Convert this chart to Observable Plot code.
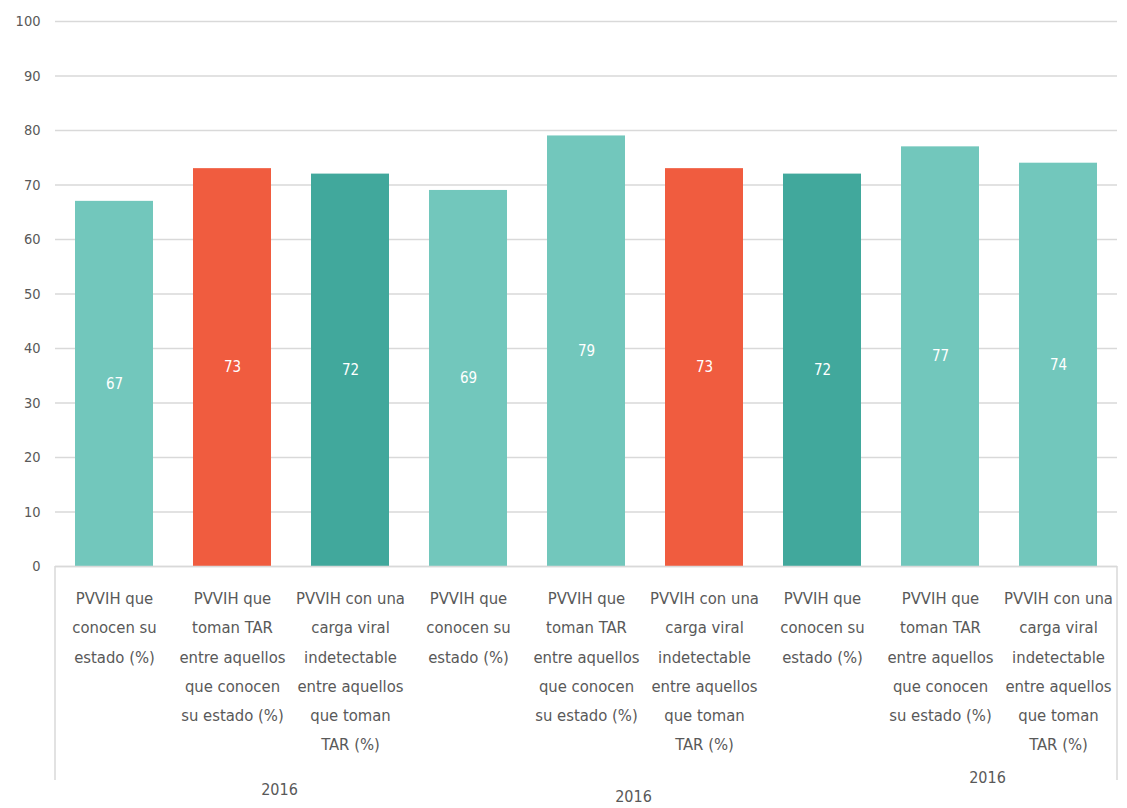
<!DOCTYPE html>
<html>
<head>
<meta charset="utf-8">
<script src="https://cdn.jsdelivr.net/npm/d3@7"></script>
<script src="https://cdn.jsdelivr.net/npm/@observablehq/plot@0.6"></script>
<style>
  html, body { margin: 0; padding: 0; background: #fff; }
  #chart svg { display: block; }
</style>
</head>
<body>
<div id="chart"></div>
<script>
const categories = [
  "PVVIH que\nconocen su\nestado (%)",
  "PVVIH que\ntoman TAR\nentre aquellos\nque conocen\nsu estado (%)",
  "PVVIH con una\ncarga viral\nindetectable\nentre aquellos\nque toman\nTAR (%)",
  "PVVIH que\nconocen su\nestado (%)",
  "PVVIH que\ntoman TAR\nentre aquellos\nque conocen\nsu estado (%)",
  "PVVIH con una\ncarga viral\nindetectable\nentre aquellos\nque toman\nTAR (%)",
  "PVVIH que\nconocen su\nestado (%)",
  "PVVIH que\ntoman TAR\nentre aquellos\nque conocen\nsu estado (%)",
  "PVVIH con una\ncarga viral\nindetectable\nentre aquellos\nque toman\nTAR (%)"
];
const values = [67, 73, 72, 69, 79, 73, 72, 77, 74];
const barColors = ["#72C7BC", "#F05C3F", "#41A89C", "#72C7BC", "#72C7BC", "#F05C3F", "#41A89C", "#72C7BC", "#72C7BC"];
const groupLabels = ["2016", "2016", "2016"];
const groupCenters = [1, 4, 7];
const yTicks = [0, 10, 20, 30, 40, 50, 60, 70, 80, 90, 100];

const data = values.map((v, i) => ({i, v, label: categories[i], color: barColors[i]}));
const groups = groupLabels.map((g, k) => ({g, i: groupCenters[k], k}));

const font = "'Liberation Sans Narrow', 'DejaVu Sans Condensed', sans-serif";
const gray = "#595959";

const chart = Plot.plot({
  width: 1127,
  height: 808,
  marginLeft: 55,
  marginRight: 10,
  marginTop: 21,
  marginBottom: 242,
  style: {fontFamily: font, color: gray, background: "#fff"},
  x: {domain: d3.range(values.length), paddingInner: 0.34, paddingOuter: 0.17, axis: null},
  y: {domain: [0, 100], axis: null},
  marks: [
    Plot.gridY(yTicks, {stroke: "#d9d9d9", strokeOpacity: 1, strokeWidth: 1.5}),
    Plot.axisY(yTicks, {tickSize: 0, tickPadding: 15, fontSize: 14.5, fill: gray, label: null}),
    Plot.barY(data, {x: "i", y: "v", fill: "color"}),
    Plot.text(data, {x: "i", y: d => d.v / 2, text: d => String(d.v), fill: "white", fontSize: 15}),
    Plot.text(data, {x: "i", y: 0, text: "label", lineAnchor: "top", dy: 17, lineHeight: 1.77, fontSize: 16.5, fill: gray}),
    Plot.text(groups.filter(d => d.k === 0), {x: "i", y: 0, text: "g", dy: 223, dx: 47, fontSize: 16, fill: gray}),
    Plot.text(groups.filter(d => d.k === 1), {x: "i", y: 0, text: "g", dy: 230, dx: 47, fontSize: 16, fill: gray}),
    Plot.text(groups.filter(d => d.k === 2), {x: "i", y: 0, text: "g", dy: 211, dx: 47, fontSize: 16, fill: gray}),
    Plot.ruleY([0], {stroke: "#d9d9d9", strokeWidth: 1.5})
  ]
});

// Outer vertical separators of the category axis, drawn via the chart's scales
const xs = chart.scale("x");
const ys = chart.scale("y");
document.getElementById("chart").appendChild(chart);
const svg = d3.select(chart);
const left = xs.range[0], right = xs.range[1];
const y0 = ys.apply(0);
[left, right].forEach(px => {
  svg.append("line").attr("x1", px).attr("x2", px).attr("y1", y0).attr("y2", y0 + 214)
    .attr("stroke", "#d9d9d9").attr("stroke-width", 1.5);
});
</script>
</body>
</html>
